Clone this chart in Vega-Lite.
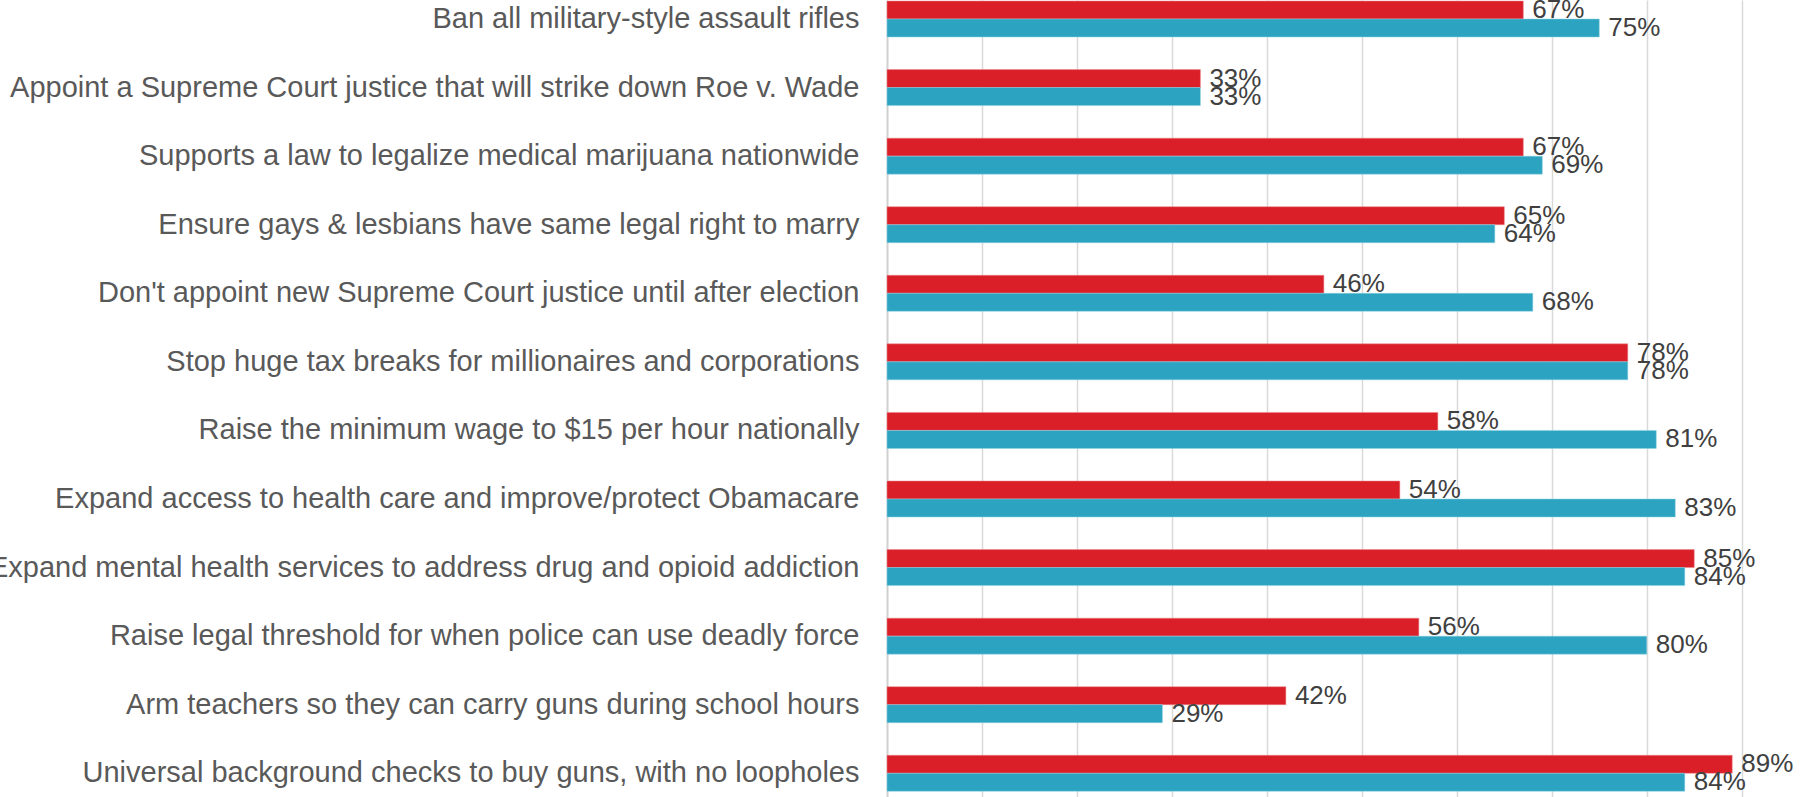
{
  "$schema": "https://vega.github.io/schema/vega-lite/v6.json",
  "width": 920,
  "height": 797,
  "autosize": {"type": "none"},
  "padding": {"left": 887, "top": 0, "right": 0, "bottom": 0},
  "background": "white",
  "config": {"view": {"stroke": null}},
  "data": {
    "values": [
      {"item": "Ban all military-style assault rifles", "series": "Group A", "pct": 0.67},
      {"item": "Ban all military-style assault rifles", "series": "Group B", "pct": 0.75},
      {"item": "Appoint a Supreme Court justice that will strike down Roe v. Wade", "series": "Group A", "pct": 0.33},
      {"item": "Appoint a Supreme Court justice that will strike down Roe v. Wade", "series": "Group B", "pct": 0.33},
      {"item": "Supports a law to legalize medical marijuana nationwide", "series": "Group A", "pct": 0.67},
      {"item": "Supports a law to legalize medical marijuana nationwide", "series": "Group B", "pct": 0.69},
      {"item": "Ensure gays & lesbians have same legal right to marry", "series": "Group A", "pct": 0.65},
      {"item": "Ensure gays & lesbians have same legal right to marry", "series": "Group B", "pct": 0.64},
      {"item": "Don't appoint new Supreme Court justice until after election", "series": "Group A", "pct": 0.46},
      {"item": "Don't appoint new Supreme Court justice until after election", "series": "Group B", "pct": 0.68},
      {"item": "Stop huge tax breaks for millionaires and corporations", "series": "Group A", "pct": 0.78},
      {"item": "Stop huge tax breaks for millionaires and corporations", "series": "Group B", "pct": 0.78},
      {"item": "Raise the minimum wage to $15 per hour nationally", "series": "Group A", "pct": 0.58},
      {"item": "Raise the minimum wage to $15 per hour nationally", "series": "Group B", "pct": 0.81},
      {"item": "Expand access to health care and improve/protect Obamacare", "series": "Group A", "pct": 0.54},
      {"item": "Expand access to health care and improve/protect Obamacare", "series": "Group B", "pct": 0.83},
      {"item": "Expand mental health services to address drug and opioid addiction", "series": "Group A", "pct": 0.85},
      {"item": "Expand mental health services to address drug and opioid addiction", "series": "Group B", "pct": 0.84},
      {"item": "Raise legal threshold for when police can use deadly force", "series": "Group A", "pct": 0.56},
      {"item": "Raise legal threshold for when police can use deadly force", "series": "Group B", "pct": 0.80},
      {"item": "Arm teachers so they can carry guns during school hours", "series": "Group A", "pct": 0.42},
      {"item": "Arm teachers so they can carry guns during school hours", "series": "Group B", "pct": 0.29},
      {"item": "Universal background checks to buy guns, with no loopholes", "series": "Group A", "pct": 0.89},
      {"item": "Universal background checks to buy guns, with no loopholes", "series": "Group B", "pct": 0.84}
    ]
  },
  "encoding": {
    "y": {
      "field": "item",
      "type": "nominal",
      "sort": null,
      "scale": {"paddingInner": 0.475, "paddingOuter": 0.049, "align": 0.15},
      "axis": {
        "title": null,
        "labelFont": "Liberation Sans",
        "labelFontSize": 29,
        "labelColor": "#595959",
        "labelPadding": 28,
        "labelLimit": 1200,
        "ticks": false,
        "domain": true,
        "domainColor": "#d0d0d0",
        "domainWidth": 2,
        "grid": false
      }
    },
    "yOffset": {
      "field": "series",
      "type": "nominal",
      "sort": ["Group A", "Group B"],
      "scale": {"paddingInner": 0, "paddingOuter": 0}
    },
    "x": {
      "field": "pct",
      "type": "quantitative",
      "scale": {"domain": [0, 0.9687], "nice": false, "zero": true},
      "axis": {
        "title": null,
        "labels": false,
        "ticks": false,
        "domain": false,
        "grid": true,
        "gridColor": "#d9d9d9",
        "gridWidth": 1.5,
        "values": [0.1, 0.2, 0.3, 0.4, 0.5, 0.6, 0.7, 0.8, 0.9]
      }
    }
  },
  "layer": [
    {
      "mark": {"type": "bar", "strokeWidth": 1, "strokeOpacity": 0.5},
      "encoding": {
        "color": {
          "field": "series",
          "type": "nominal",
          "scale": {"domain": ["Group A", "Group B"], "range": ["#DA1F28", "#2CA3C1"]},
          "legend": null
        },
        "stroke": {
          "field": "series",
          "type": "nominal",
          "scale": {"domain": ["Group A", "Group B"], "range": ["#F08A90", "#8FD3E4"]},
          "legend": null
        }
      }
    },
    {
      "mark": {
        "type": "text",
        "align": "left",
        "baseline": "middle",
        "dx": 9,
        "font": "Liberation Sans",
        "fontSize": 26,
        "color": "#404040"
      },
      "encoding": {
        "text": {"field": "pct", "type": "quantitative", "format": ".0%"}
      }
    }
  ]
}
